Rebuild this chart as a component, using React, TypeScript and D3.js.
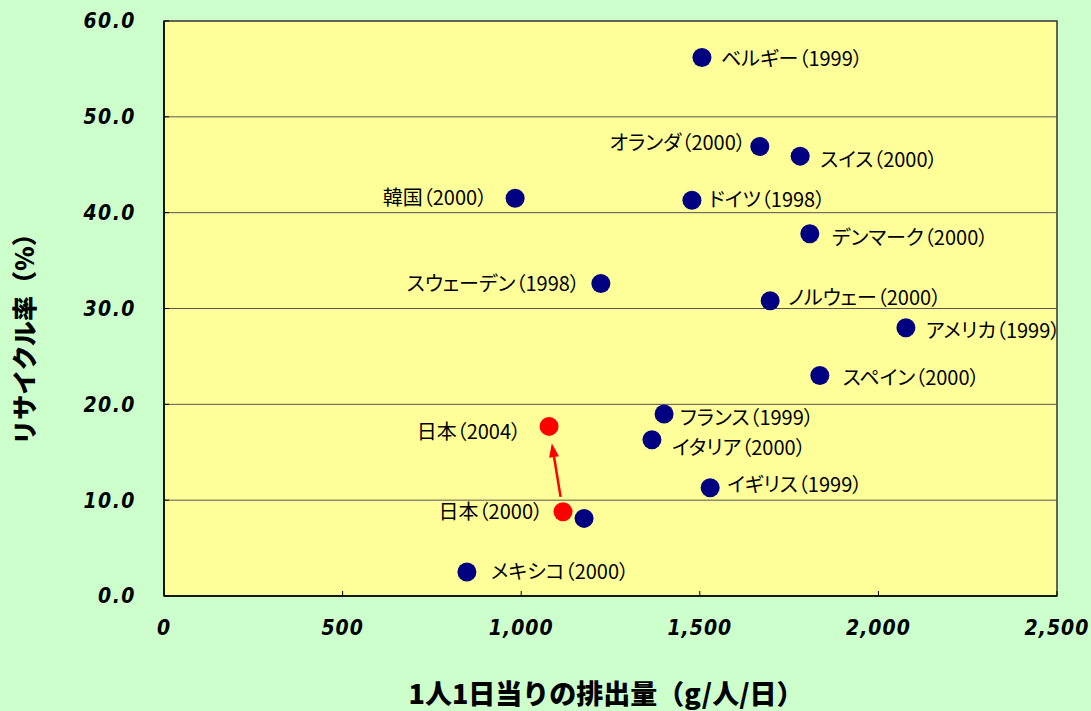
import React from 'react';
import * as d3 from 'd3';

// ------- Data -------
const countries = [
  'ベルギー（1999）', 'オランダ（2000）', 'スイス（2000）', '韓国（2000）', 'ドイツ（1998）',
  'デンマーク（2000）', 'スウェーデン（1998）', 'ノルウェー（2000）', 'アメリカ（1999）',
  'スペイン（2000）', 'フランス（1999）', 'イタリア（2000）', 'イギリス（1999）', '', 'メキシコ（2000）',
];
const emission = [1506, 1668, 1781, 983, 1478, 1808, 1223, 1697, 2077, 1836, 1400, 1366, 1529, 1176, 848];
const recycleRate = [56.2, 46.9, 45.9, 41.5, 41.3, 37.8, 32.6, 30.8, 28.0, 23.0, 19.0, 16.3, 11.3, 8.1, 2.5];

const japanLabels = ['日本（2000）', '日本（2004）'];
const japanEmission = [1117, 1078];
const japanRate = [8.8, 17.7];

const xTicks = [0, 500, 1000, 1500, 2000, 2500];
const yTicks = [0, 10, 20, 30, 40, 50, 60];

// label placement: horizontal offset (negative = left of point), vertical nudge
const labelDx = [19, -14, 20, -28, 17, 22, -21, 18, 20, 23, 16, 20, 17, 0, 24];
const labelDy = [2, -4, 4, 0, 0, 4, 0, -3, 3, 2, 4, 8, -3, 0, 0];
const japanDx = [-20, -28];
const japanDy = [0, 6];

const W = 1091;
const H = 711;
const margin = { top: 21, right: 34, bottom: 115, left: 164 };

const numFont = '"Liberation Sans Narrow", "DejaVu Sans Condensed", sans-serif';
const jpFont = '"Noto Sans CJK JP", sans-serif';

export default function App() {
  const x = d3.scaleLinear().domain([0, 2500]).range([margin.left, W - margin.right]);
  const y = d3.scaleLinear().domain([0, 60]).range([H - margin.bottom, margin.top]);
  const fmtX = d3.format(',');
  const fmtY = d3.format('.1f');

  const label = (px: number, py: number, text: string, dx: number, dy: number, key: string) => (
    <text
      key={key}
      x={px + dx}
      y={py + dy}
      dy="0.35em"
      textAnchor={dx >= 0 ? 'start' : 'end'}
      fontFamily={jpFont}
      fontSize={20}
      style={{ fontFeatureSettings: '"palt"' }}
      fill="#000"
    >
      {text}
    </text>
  );

  // arrow from Japan 2000 to Japan 2004
  const ax0 = x(japanEmission[0]);
  const ay0 = y(japanRate[0]);
  const ax1 = x(japanEmission[1]);
  const ay1 = y(japanRate[1]);
  const len = Math.hypot(ax1 - ax0, ay1 - ay0);
  const ux = (ax1 - ax0) / len;
  const uy = (ay1 - ay0) / len;
  const sx = ax0 + ux * 15;
  const sy = ay0 + uy * 15;
  const tx = ax1 - ux * 17;
  const ty = ay1 - uy * 17;
  const hx = tx - ux * 14;
  const hy = ty - uy * 14;
  const px = -uy * 5;
  const py = ux * 5;

  return (
    <svg width={W} height={H} style={{ position: 'absolute', left: 0, top: 0, display: 'block' }}>
      <rect x={0} y={0} width={W} height={H} fill="#ccffcc" />
      <rect
        x={x(0)}
        y={y(60)}
        width={x(2500) - x(0)}
        height={y(0) - y(60)}
        fill="#ffff99"
        stroke="#333"
        strokeWidth={1.5}
      />

      {/* grid */}
      {yTicks.filter((t) => t > 0 && t < 60).map((t) => (
        <line key={'g' + t} x1={x(0)} x2={x(2500)} y1={y(t)} y2={y(t)} stroke="#555" strokeWidth={1} />
      ))}

      {/* y ticks */}
      {yTicks.map((t) => (
        <g key={'yt' + t}>
          <line x1={x(0)} x2={x(0) + 5} y1={y(t)} y2={y(t)} stroke="#000" />
          <text
            x={136}
            y={y(t)}
            dy="0.35em"
            textAnchor="end"
            fontFamily={numFont}
            fontWeight="bold"
            fontStyle="italic"
            fontSize={21}
            letterSpacing={1.5}
            fill="#000"
          >
            {fmtY(t)}
          </text>
        </g>
      ))}

      {/* x ticks */}
      {xTicks.map((t) => (
        <g key={'xt' + t}>
          <line x1={x(t)} x2={x(t)} y1={y(0)} y2={y(0) - 5} stroke="#000" />
          <text
            x={x(t)}
            y={y(0) + 39}
            textAnchor="middle"
            fontFamily={numFont}
            fontWeight="bold"
            fontStyle="italic"
            fontSize={21}
            letterSpacing={1}
            fill="#000"
          >
            {fmtX(t)}
          </text>
        </g>
      ))}

      {/* axis lines */}
      <line x1={x(0)} x2={x(0)} y1={y(0)} y2={y(60)} stroke="#000" strokeWidth={1.5} />
      <line x1={x(0)} x2={x(2500)} y1={y(0)} y2={y(0)} stroke="#000" strokeWidth={1.5} />

      {/* axis titles */}
      <text
        x={606}
        y={704}
        textAnchor="middle"
        fontFamily={jpFont}
        fontWeight="900"
        fontSize={27}
        fill="#000"
      >
        1人1日当りの排出量（g/人/日）
      </text>
      <text
        transform={`translate(34, 333) rotate(-90)`}
        textAnchor="middle"
        fontFamily={jpFont}
        fontWeight="900"
        fontSize={25}
        fill="#000"
      >
        リサイクル率（%）
      </text>

      {/* arrow */}
      <line x1={sx} y1={sy} x2={hx} y2={hy} stroke="#ff0000" strokeWidth={2.5} />
      <path d={`M${tx},${ty}L${hx + px},${hy + py}L${hx - px},${hy - py}Z`} fill="#ff0000" />

      {/* points */}
      {emission.map((e, i) => (
        <circle key={'c' + i} cx={x(e)} cy={y(recycleRate[i])} r={9.5} fill="#000080" />
      ))}
      {japanEmission.map((e, i) => (
        <circle key={'j' + i} cx={x(e)} cy={y(japanRate[i])} r={9.5} fill="#ff0000" />
      ))}

      {/* labels */}
      {countries.map((c, i) =>
        c ? label(x(emission[i]), y(recycleRate[i]), c, labelDx[i], labelDy[i], 'l' + i) : null
      )}
      {japanLabels.map((c, i) =>
        label(x(japanEmission[i]), y(japanRate[i]), c, japanDx[i], japanDy[i], 'jl' + i)
      )}
    </svg>
  );
}
